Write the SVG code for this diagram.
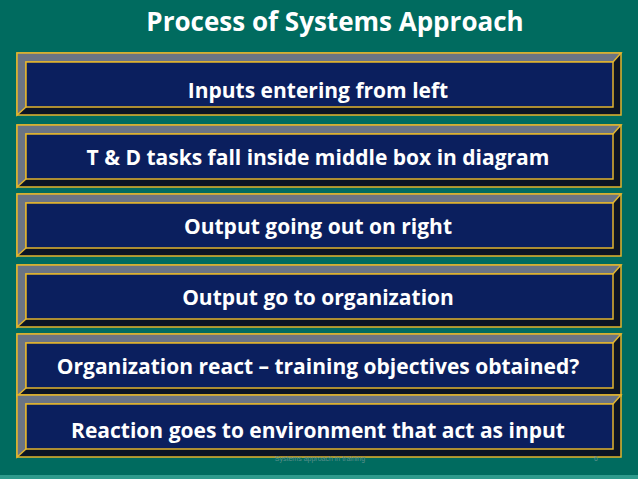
<svg xmlns="http://www.w3.org/2000/svg" width="638" height="479" viewBox="0 0 638 479">
<style>
.t{font-family:"Open Sans","Liberation Sans",sans-serif;font-weight:bold;fill:#fff;text-anchor:middle}
.b{font-size:21px}
.lt{fill:#6b7484;stroke:#e3b52e;stroke-width:1.5}
.dk{fill:#0c1424;stroke:#e3b52e;stroke-width:1.5}
.in{fill:#0b1f5e;stroke:#e3b52e;stroke-width:1.5}
</style>
<defs>
<g id="bev">
<polygon class="dk" points="0,0 604,0 604,62 0,62"/>
<polygon class="lt" points="0,0 604,0 596,9 9,9 9,54 0,62"/>
<rect class="in" x="9" y="9" width="587" height="45"/>
</g>
</defs>
<rect width="638" height="479" fill="#006b5f"/>
<rect y="475" width="638" height="4" fill="#2e9a8c"/>
<text class="t" x="335" y="31" font-size="26">Process of Systems Approach</text>
<g id="n1"><use href="#bev" x="17" y="53"/><text class="t b" x="318" y="98">Inputs entering from left</text></g>
<g id="n2"><use href="#bev" x="17" y="125"/><text class="t b" x="318" y="165">T &amp; D tasks fall inside middle box in diagram</text></g>
<g id="n3"><use href="#bev" x="17" y="194"/><text class="t b" x="318" y="234">Output going out on right</text></g>
<g id="n4"><use href="#bev" x="17" y="265"/><text class="t b" x="318" y="305">Output go to organization</text></g>
<g id="n5"><use href="#bev" x="17" y="334"/><text class="t b" x="318" y="374">Organization react – training objectives obtained?</text></g>
<g id="n6"><use href="#bev" x="17" y="395"/><text class="t b" x="318" y="438">Reaction goes to environment that act as input</text></g>
<g id="connectors"/>
<text x="320" y="461" font-family="Liberation Sans,sans-serif" font-size="7" fill="#5a8f8a" text-anchor="middle">Systems approach in training</text>
<text x="596" y="461" font-family="Liberation Sans,sans-serif" font-size="7" fill="#5a8f8a" text-anchor="middle">6</text>
</svg>
